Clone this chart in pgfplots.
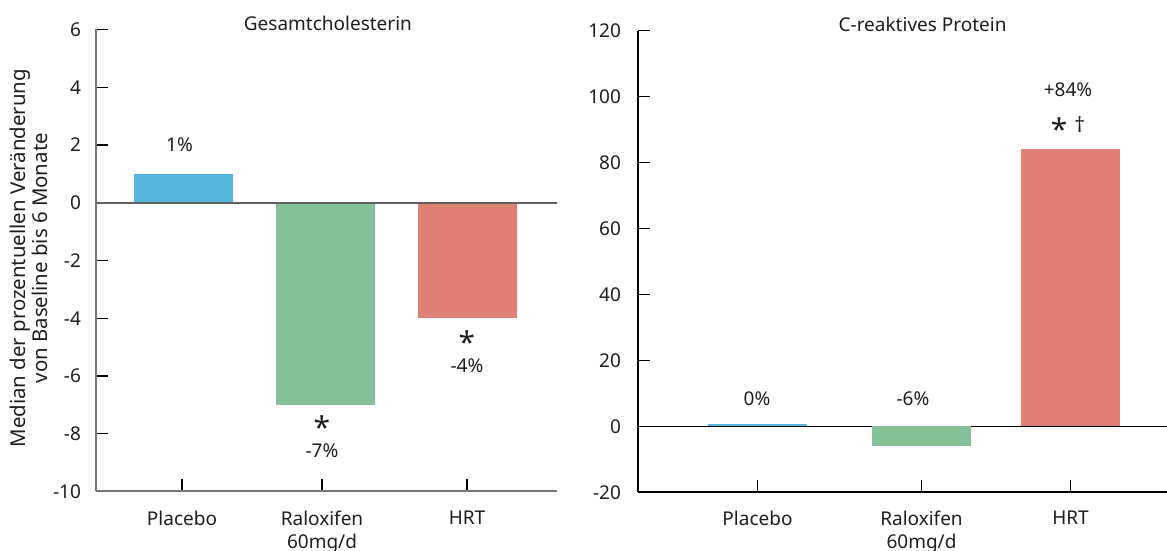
\documentclass[border=0pt]{standalone}
\usepackage{pgfplots}
\pgfplotsset{compat=1.18}
\usepackage{fontspec}
\setmainfont{Noto Sans}
\definecolor{cblue}{RGB}{85,182,222}
\definecolor{cgreen}{RGB}{132,193,152}
\definecolor{cred}{RGB}{224,127,115}
\definecolor{txt}{RGB}{30,30,30}
\definecolor{lgray}{RGB}{120,120,120}
\newcommand\astk{{\fontsize{15}{15}\selectfont *}}
\begin{document}
\begin{tikzpicture}
\useasboundingbox (0,0) rectangle (583.5pt,275.5pt);
\pgfplotsset{
  every axis title shift=0pt,
  every axis/.append style={
    scale only axis,
    anchor=south west,
    axis x line=bottom, axis y line=left,
    axis line style={-},
    tick align=inside,
    major tick length=6pt,
    font=\fontsize{9.5}{11}\selectfont,
    /pgf/number format/assume math mode=true,
    tick label style={text=txt},
    xticklabel style={align=center, yshift=-6pt, font=\fontsize{9.5}{11.5}\selectfont},
    yticklabel style={xshift=-4pt},
    title style={anchor=base, text=txt, font=\fontsize{9.5}{11}\selectfont},
    tick style={black, line width=0.6pt},
    clip=false,
  },
  barp/.style={ybar, bar width=99, bar shift=0pt, draw=none, fill=#1},
}
\begin{axis}[
  at={(48pt,29.75pt)}, width=230.5pt, height=231pt,
  xmin=96, xmax=557, ymin=-10, ymax=6,
  ytick={-10,-8,...,6},
  xtick={182,322,467},
  xticklabels={Placebo,{Raloxifen\\60mg/d},HRT},
  axis line style={lgray, line width=1pt},
  title=Gesamtcholesterin,
  title style={at={(rel axis cs:0.503,0.997)}},
  ylabel={Median der prozentuellen Veränderung\\von Baseline bis 6 Monate},
  ylabel style={at={(rel axis cs:-0.145,0.505)}, anchor=center, align=center, text=txt, font=\fontsize{10.2}{11}\selectfont},
]
\addplot[barp=cblue] coordinates {(183.5,1)};
\addplot[barp=cgreen] coordinates {(325.5,-7)};
\addplot[barp=cred] coordinates {(467.5,-4)};
\draw[lgray!80!black, line width=1pt] (axis cs:96,0) -- (axis cs:557,0);
\node[text=txt] at (axis cs:179.5,2.0) {1\%};
\node[text=txt, anchor=base] at (axis cs:322,-8.15) {\astk};
\node[text=txt] at (axis cs:322,-8.6) {-7\%};
\node[text=txt, anchor=base] at (axis cs:467,-5.22) {\astk};
\node[text=txt] at (axis cs:467,-5.65) {-4\%};
\end{axis}
\begin{axis}[
  at={(319pt,29.35pt)}, width=264.5pt, height=230.8pt,
  xmin=638, xmax=1167, ymin=-20, ymax=120,
  ytick={-20,0,...,120},
  xtick={757.5,921.5,1070.5},
  xticklabels={Placebo,{Raloxifen\\60mg/d},HRT},
  axis line style={black, line width=0.8pt},
  yticklabel style={xshift=-1pt},
  title=C-reaktives Protein,
  title style={at={(rel axis cs:0.538,0.999)}},
]
\draw[black, line width=0.8pt] (axis cs:638,0) -- (axis cs:1167,0);
\addplot[barp=cblue] coordinates {(757.5,0.6)};
\addplot[barp=cgreen] coordinates {(921.5,-6)};
\addplot[barp=cred] coordinates {(1070.5,84)};
\node[text=txt] at (axis cs:757,8.3) {0\%};
\node[text=txt] at (axis cs:913,8.3) {-6\%};
\node[text=txt] at (axis cs:1068,102.2) {+84\%};
\node[text=txt, anchor=base] at (axis cs:1068,89.7) {\raisebox{-4.85pt}{\astk}\hspace{3.5pt}\raisebox{-1.2pt}{\fontsize{10.5}{10.5}\selectfont †}};
\end{axis}
\end{tikzpicture}
\end{document}
